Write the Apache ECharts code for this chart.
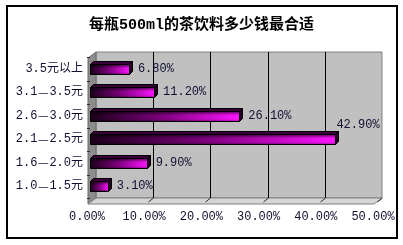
<!DOCTYPE html>
<html><head><meta charset="utf-8">
<script src="https://cdn.jsdelivr.net/npm/echarts@6/dist/echarts.min.js"></script>
<style>html,body{margin:0;padding:0;background:#fff}#c{width:403px;height:245px}</style>
</head><body><div id="c"></div>
<script>
const chartTitle = '每瓶500ml的茶饮料多少钱最合适';
const categories = ['1.0—1.5元', '1.6—2.0元', '2.1—2.5元', '2.6—3.0元', '3.1—3.5元', '3.5元以上'];
const values = [3.1, 9.9, 42.9, 26.1, 11.2, 6.8];
const axisMin = 0, axisMax = 50, axisStep = 10;

const MONO = '"Liberation Mono", "Noto Sans CJK SC", monospace';
const TXT = '#101030';
const fmtPct = v => v.toFixed(2) + '%';
const maxVal = Math.max(...values);

const chart = echarts.init(document.getElementById('c'), null, {renderer: 'canvas'});

function frameItem(params, api) {
  const cs = params.coordSys;
  const off = -2;
  const DX = 8, DY = 6;
  const fx0 = cs.x + off, fx1 = cs.x + cs.width + off;
  const bx0 = fx0 + DX, bx1 = fx1 + DX;
  const by0 = cs.y - 5, by1 = cs.y + cs.height;
  const fy1 = by1 + DY;
  const ch = [];
  ch.push({type: 'rect', shape: {x: bx0, y: by0, width: bx1 - bx0, height: by1 - by0},
    style: {fill: '#c0c0c0', stroke: '#808080', lineWidth: 1}});
  ch.push({type: 'polygon', shape: {points: [[fx0, by0 + DY], [bx0, by0], [bx0, by1], [fx0, fy1]]},
    style: {fill: '#8c8c8c', stroke: '#6a6a6a', lineWidth: 1}});
  ch.push({type: 'polygon', shape: {points: [[fx0, fy1], [bx0, by1], [bx1, by1], [fx1, fy1]]},
    style: {fill: '#d6d6d6', stroke: '#808080', lineWidth: 1}});
  for (let v = axisMin + axisStep; v <= axisMax; v += axisStep) {
    const x = Math.round(api.coord([v, 0])[0] + off + DX) + 0.5;
    if (v < axisMax) {
      ch.push({type: 'line', shape: {x1: x, y1: by0, x2: x, y2: by1}, style: {stroke: '#000', lineWidth: 1}});
    }
    ch.push({type: 'line', shape: {x1: x, y1: by1, x2: x - 5, y2: by1 + 4}, style: {stroke: '#303030', lineWidth: 1}});
  }
  const band = cs.height / categories.length;
  for (let k = 0; k <= categories.length; k++) {
    const y = Math.round(cs.y + k * band) + 0.5;
    ch.push({type: 'line', shape: {x1: fx0 - 1, y1: y, x2: fx0 + 2, y2: y}, style: {stroke: '#303030', lineWidth: 1}});
  }
  return {type: 'group', children: ch};
}

function barItem(params, api) {
  const v = api.value(0), i = api.value(1);
  const p0 = api.coord([0, i]), p1 = api.coord([v, i]);
  const c = p0[1];
  const x0 = Math.round(p0[0]) + 0.5, x1 = Math.round(p1[0]) + 0.5;
  const yt = Math.round(c - 5) + 0.5, yb = Math.round(c + 5) + 0.5;
  const dx = 3, dy = 3;
  const frontGrad = new echarts.graphic.LinearGradient(0, 0, 1, 0, [
    {offset: 0, color: '#1a0019'}, {offset: 0.45, color: '#760076'}, {offset: 1, color: '#ff14ff'}]);
  const shade = new echarts.graphic.LinearGradient(0, 0, 0, 1, [
    {offset: 0, color: 'rgba(0,0,0,0.55)'}, {offset: 0.35, color: 'rgba(0,0,0,0)'},
    {offset: 0.8, color: 'rgba(0,0,0,0)'}, {offset: 1, color: 'rgba(0,0,0,0.3)'}]);
  const isMax = v === maxVal;
  const lx = isMax ? p1[0] + 1 : p1[0] + 9;
  const ly = isMax ? c - 14 : c;
  return {type: 'group', children: [
    {type: 'polygon', shape: {points: [[x0, yt], [x0 + dx, yt - dy], [x1 + dx, yt - dy], [x1, yt]]},
      style: {fill: '#3a003a', stroke: '#000', lineWidth: 1}},
    {type: 'polygon', shape: {points: [[x1, yt], [x1 + dx, yt - dy], [x1 + dx, yb - dy], [x1, yb]]},
      style: {fill: '#240024', stroke: '#000', lineWidth: 1}},
    {type: 'rect', shape: {x: x0, y: yt, width: x1 - x0, height: yb - yt},
      style: {fill: frontGrad, stroke: '#000', lineWidth: 1}},
    {type: 'rect', shape: {x: x0 + 0.5, y: yt + 0.5, width: x1 - x0 - 1, height: yb - yt - 1},
      style: {fill: shade}},
    {type: 'text', x: lx, y: ly,
      style: {text: fmtPct(v), fill: TXT, font: '12px ' + MONO, align: 'left', verticalAlign: 'middle'}}
  ]};
}

chart.setOption({
  animation: false,
  backgroundColor: '#fff',
  title: {text: chartTitle, left: 'center', top: 13,
    textStyle: {fontSize: 15, fontWeight: 'bold', color: '#000', fontFamily: MONO}},
  grid: {left: 90, right: 27, top: 57, bottom: 47, containLabel: false},
  xAxis: {type: 'value', min: axisMin, max: axisMax, interval: axisStep,
    axisLine: {show: false}, axisTick: {show: false}, splitLine: {show: false},
    axisLabel: {formatter: v => fmtPct(v), color: TXT, fontSize: 12, fontFamily: MONO, margin: 13, padding: [0, 6, 0, 0]}},
  yAxis: {type: 'category', data: categories,
    axisLine: {show: false}, axisTick: {show: false}, splitLine: {show: false},
    axisLabel: {color: TXT, fontSize: 12, fontFamily: MONO, margin: 7,
      formatter: s => s.replace('—', '{d|—}'),
      rich: {d: {fontFamily: '"Noto Sans CJK SC"', fontSize: 12, width: 12, align: 'center', color: TXT}}}},
  graphic: [{type: 'rect', shape: {x: 7, y: 6, width: 390, height: 232},
    style: {fill: 'none', stroke: '#000', lineWidth: 2}, z: 100}],
  series: [
    {type: 'custom', name: 'frame', renderItem: frameItem, data: [[0, 0]], z: 1, silent: true, clip: false},
    {type: 'custom', name: 'bars', renderItem: barItem, encode: {x: 0, y: 1},
      data: values.map((v, i) => [v, i]), z: 2, clip: false}
  ]
});
</script></body></html>
